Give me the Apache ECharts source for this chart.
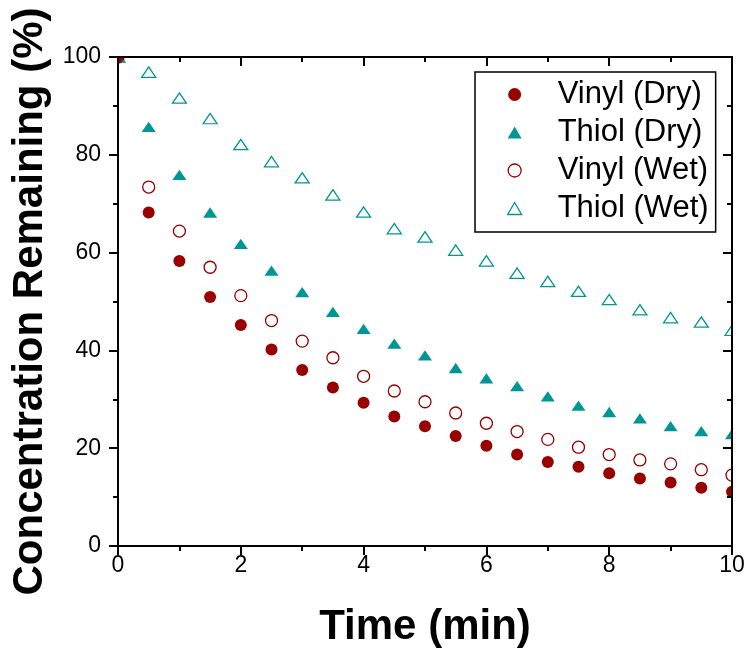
<!DOCTYPE html>
<html>
<head>
<meta charset="utf-8">
<script src="https://cdn.jsdelivr.net/npm/echarts@6/dist/echarts.min.js"></script>
<style>
html,body{margin:0;padding:0;background:#fff;}
#chart{width:749px;height:653px;}
</style>
</head>
<body>
<div id="chart"></div>
<script>
var timeMin = [0, 0.5, 1, 1.5, 2, 2.5, 3, 3.5, 4, 4.5, 5, 5.5, 6, 6.5, 7, 7.5, 8, 8.5, 9, 9.5, 10];
var vinylDry = [100, 68.2, 58.3, 50.9, 45.2, 40.2, 36.0, 32.4, 29.3, 26.5, 24.5, 22.5, 20.5, 18.7, 17.2, 16.2, 14.9, 13.8, 13.0, 11.9, 11.1];
var thiolDry = [100, 85.7, 75.9, 68.2, 61.8, 56.3, 51.9, 47.9, 44.4, 41.4, 39.0, 36.4, 34.3, 32.7, 30.6, 28.7, 27.4, 26.1, 24.5, 23.5, 22.9];
var vinylWet = [100, 73.4, 64.4, 57.0, 51.2, 46.1, 41.9, 38.5, 34.7, 31.7, 29.5, 27.2, 25.1, 23.4, 21.8, 20.2, 18.7, 17.6, 16.8, 15.6, 14.5];
var thiolWet = [100, 96.9, 91.6, 87.4, 82.1, 78.6, 75.3, 71.8, 68.3, 64.9, 63.2, 60.5, 58.3, 55.8, 54.1, 52.1, 50.4, 48.3, 46.7, 45.8, 44.1];
var seriesNames = ['Vinyl (Dry)', 'Thiol (Dry)', 'Vinyl (Wet)', 'Thiol (Wet)'];
var xTicks = [0, 2, 4, 6, 8, 10];
var yTicks = [0, 20, 40, 60, 80, 100];

function pairs(ys) { return timeMin.map(function (t, i) { return [t, ys[i]]; }); }

var RED = '#990000', TEAL = '#009696';
var FONT = "'Liberation Sans', Arial, sans-serif";
var TRI = 'path://M0,12L7,0L14,12Z';

var chart = echarts.init(document.getElementById('chart'));
function axisLine() { return { show: true, onZero: false, lineStyle: { color: '#000', width: 2 } }; }
function tick(inside) { return { show: true, inside: inside, length: 9, lineStyle: { color: '#000', width: 2 } }; }
function minor() { return { show: true, splitNumber: 2, length: 5, lineStyle: { color: '#000', width: 2 } }; }

chart.setOption({
  animation: false,
  backgroundColor: '#fff',
  grid: { left: 118, right: 17, top: 57, bottom: 103, containLabel: false },
  xAxis: [{
    type: 'value', min: xTicks[0], max: xTicks[xTicks.length - 1], interval: 2, position: 'bottom', z: 10,
    name: 'Time (min)', nameLocation: 'middle', nameGap: 60,
    nameTextStyle: { fontSize: 42, fontWeight: 'bold', color: '#000', fontFamily: FONT },
    axisLine: axisLine(), splitLine: { show: false },
    axisTick: tick(false), minorTick: minor(),
    axisLabel: { fontSize: 23, color: '#000', fontFamily: FONT, margin: 8 }
  }, {
    type: 'value', min: xTicks[0], max: xTicks[xTicks.length - 1], interval: 2, position: 'top', z: 10,
    axisLine: axisLine(), splitLine: { show: false },
    axisTick: tick(true), minorTick: minor(),
    axisLabel: { show: false }
  }],
  yAxis: [{
    type: 'value', min: yTicks[0], max: yTicks[yTicks.length - 1], interval: 20, position: 'left', z: 10,
    name: 'Concentration Remaining (%)', nameLocation: 'middle', nameGap: 61,
    nameTextStyle: { fontSize: 42, fontWeight: 'bold', color: '#000', fontFamily: FONT },
    axisLine: axisLine(), splitLine: { show: false },
    axisTick: tick(false), minorTick: minor(),
    axisLabel: { fontSize: 23, color: '#000', fontFamily: FONT, margin: 17 }
  }, {
    type: 'value', min: yTicks[0], max: yTicks[yTicks.length - 1], interval: 20, position: 'right', z: 10,
    axisLine: axisLine(), splitLine: { show: false },
    axisTick: tick(true), minorTick: minor(),
    axisLabel: { show: false }
  }],
  legend: {
    orient: 'vertical', left: 475, top: 72, z: 12,
    padding: [7, 7, 8, 32], itemGap: 7,
    itemWidth: 14, itemHeight: 13,
    borderColor: '#000', borderWidth: 1.5, backgroundColor: '#fff',
    formatter: function (name) { return '{g|}' + name; },
    textStyle: { fontSize: 31, color: '#000', fontFamily: FONT, rich: { g: { width: 31, fontSize: 31 } } },
    data: [
      { name: seriesNames[0] },
      { name: seriesNames[1] },
      { name: seriesNames[2], itemStyle: { borderWidth: 1.3, borderColor: RED, color: '#fff' } },
      { name: seriesNames[3], itemStyle: { borderWidth: 1.3, borderColor: TEAL, color: '#fff' } }
    ]
  },
  series: [
    { name: seriesNames[0], type: 'scatter', data: pairs(vinylDry), symbol: 'circle', symbolSize: 12,
      itemStyle: { color: RED, opacity: 1 }, emphasis: { disabled: true }, z: 4 },
    { name: seriesNames[1], type: 'scatter', data: pairs(thiolDry), symbol: TRI, symbolSize: [14, 12], symbolKeepAspect: true,
      itemStyle: { color: TEAL, opacity: 1 }, emphasis: { disabled: true }, z: 3 },
    { name: seriesNames[2], type: 'scatter', data: pairs(vinylWet), symbol: 'circle', symbolSize: 12,
      itemStyle: { color: '#fff', borderColor: RED, borderWidth: 1.3, opacity: 1 }, emphasis: { disabled: true }, z: 2 },
    { name: seriesNames[3], type: 'scatter', data: pairs(thiolWet), symbol: TRI, symbolSize: [14, 12], symbolKeepAspect: true,
      itemStyle: { color: '#fff', borderColor: TEAL, borderWidth: 1.3, opacity: 1 }, emphasis: { disabled: true }, z: 1 }
  ]
});

// white masks outside the plot rectangle so markers on the frame are clipped like the original
var p0 = chart.convertToPixel({ xAxisIndex: 0, yAxisIndex: 0 }, [xTicks[0], yTicks[yTicks.length - 1]]);
var p1 = chart.convertToPixel({ xAxisIndex: 0, yAxisIndex: 0 }, [xTicks[xTicks.length - 1], yTicks[0]]);
var W = chart.getWidth(), H = chart.getHeight();
var maskStyle = { fill: '#fff' };
chart.setOption({
  graphic: [
    { type: 'rect', z: 6, silent: true, shape: { x: 0, y: 0, width: W, height: p0[1] }, style: maskStyle },
    { type: 'rect', z: 6, silent: true, shape: { x: 0, y: 0, width: p0[0], height: H }, style: maskStyle },
    { type: 'rect', z: 6, silent: true, shape: { x: p1[0], y: 0, width: W - p1[0], height: H }, style: maskStyle },
    { type: 'rect', z: 6, silent: true, shape: { x: 0, y: p1[1], width: W, height: H - p1[1] }, style: maskStyle }
  ]
});
</script>
</body>
</html>
